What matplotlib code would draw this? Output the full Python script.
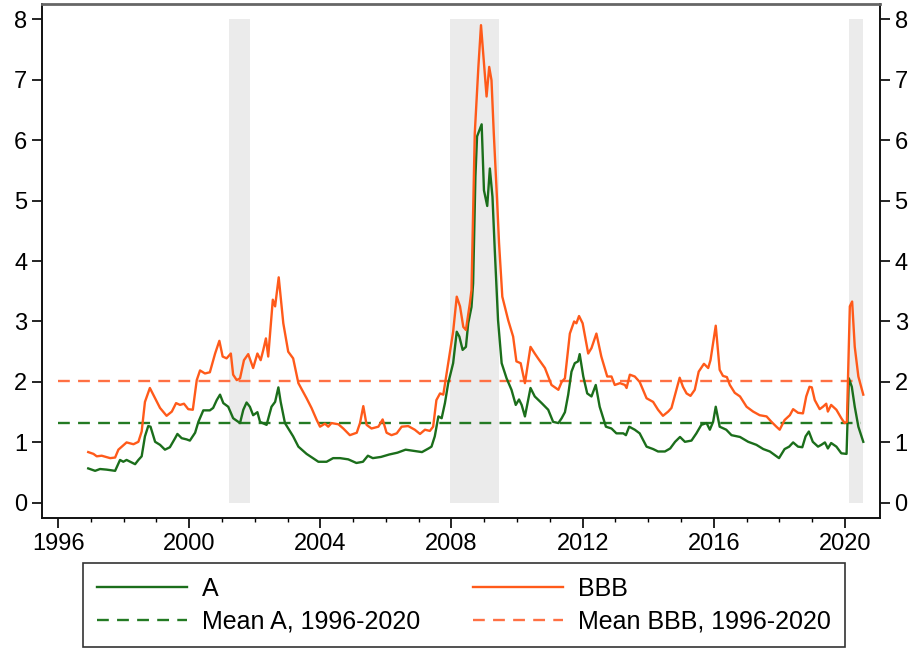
import matplotlib
matplotlib.use("Agg")
import matplotlib.pyplot as plt
import numpy as np

plt.rcParams['font.family'] = ['Liberation Sans', 'DejaVu Sans']

# A-rated spread (decimal year, percent)
a_t = [1996.92, 1997.13, 1997.28, 1997.48, 1997.74, 1997.89, 1997.99, 1998.09, 1998.35, 1998.45,
       1998.55, 1998.65, 1998.75, 1998.82, 1998.96, 1999.11, 1999.26, 1999.41, 1999.57, 1999.64,
       1999.77, 1999.92, 2000.02, 2000.18, 2000.28, 2000.43, 2000.63, 2000.73, 2000.84, 2000.94,
       2001.04, 2001.19, 2001.34, 2001.55, 2001.65, 2001.75, 2001.85, 2001.95, 2002.08, 2002.16,
       2002.36, 2002.51, 2002.62, 2002.72, 2002.79, 2002.92, 2003.17, 2003.33, 2003.58, 2003.94,
       2004.19, 2004.39, 2004.60, 2004.85, 2005.10, 2005.30, 2005.45, 2005.60, 2005.85, 2006.10,
       2006.35, 2006.60, 2006.85, 2007.10, 2007.30, 2007.39, 2007.49, 2007.60, 2007.70, 2007.80,
       2007.90, 2008.05, 2008.16, 2008.24, 2008.34, 2008.44, 2008.51, 2008.61, 2008.66, 2008.73,
       2008.78, 2008.92, 2008.99, 2009.09, 2009.17, 2009.25, 2009.32, 2009.42, 2009.53, 2009.68,
       2009.83, 2009.96, 2010.06, 2010.14, 2010.24, 2010.41, 2010.54, 2010.75, 2010.95, 2011.10,
       2011.26, 2011.36, 2011.46, 2011.56, 2011.66, 2011.76, 2011.86, 2011.91, 2012.02, 2012.14,
       2012.27, 2012.40, 2012.52, 2012.71, 2012.88, 2013.03, 2013.24, 2013.32, 2013.42, 2013.59,
       2013.74, 2013.95, 2014.15, 2014.30, 2014.51, 2014.67, 2014.82, 2014.97, 2015.12, 2015.32,
       2015.47, 2015.62, 2015.78, 2015.88, 2015.98, 2016.06, 2016.18, 2016.38, 2016.54, 2016.80,
       2017.05, 2017.30, 2017.51, 2017.71, 2017.86, 2017.99, 2018.16, 2018.30, 2018.42, 2018.57,
       2018.70, 2018.80, 2018.90, 2019.02, 2019.18, 2019.28, 2019.39, 2019.48, 2019.58, 2019.74,
       2019.89, 2020.05, 2020.12, 2020.21, 2020.30, 2020.41, 2020.56]
a_v = [0.57, 0.53, 0.56, 0.55, 0.53, 0.71, 0.68, 0.71, 0.64, 0.71,
       0.77, 1.10, 1.27, 1.26, 1.01, 0.96, 0.88, 0.92, 1.07, 1.14,
       1.07, 1.05, 1.03, 1.16, 1.34, 1.53, 1.53, 1.57, 1.70, 1.79,
       1.65, 1.59, 1.40, 1.32, 1.54, 1.66, 1.59, 1.45, 1.50, 1.34,
       1.29, 1.59, 1.67, 1.91, 1.67, 1.32, 1.10, 0.93, 0.81, 0.68,
       0.68, 0.74, 0.74, 0.72, 0.66, 0.68, 0.78, 0.74, 0.76, 0.80,
       0.83, 0.88, 0.86, 0.84, 0.90, 0.93, 1.10, 1.43, 1.40, 1.65,
       1.98, 2.31, 2.83, 2.75, 2.53, 2.58, 2.97, 3.24, 3.63, 5.40,
       6.06, 6.26, 5.17, 4.91, 5.53, 5.06, 4.18, 3.02, 2.31, 2.06,
       1.87, 1.62, 1.71, 1.62, 1.43, 1.90, 1.76, 1.65, 1.54, 1.34,
       1.32, 1.40, 1.50, 1.79, 2.17, 2.31, 2.34, 2.46, 2.09, 1.81,
       1.76, 1.95, 1.59, 1.26, 1.23, 1.15, 1.15, 1.12, 1.26, 1.21,
       1.15, 0.93, 0.89, 0.85, 0.85, 0.90, 1.01, 1.09, 1.01, 1.03,
       1.15, 1.29, 1.32, 1.21, 1.34, 1.59, 1.26, 1.21, 1.12, 1.09,
       1.01, 0.96, 0.89, 0.85, 0.79, 0.74, 0.89, 0.93, 1.00, 0.93,
       0.92, 1.10, 1.18, 1.01, 0.93, 0.96, 1.00, 0.90, 0.99, 0.93,
       0.82, 0.81, 2.06, 1.92, 1.59, 1.26, 1.01]

# BBB-rated spread
bbb_t = [1996.92, 1997.08, 1997.18, 1997.33, 1997.59, 1997.74, 1997.84, 1998.09, 1998.30, 1998.45,
         1998.55, 1998.65, 1998.80, 1998.96, 1999.11, 1999.31, 1999.47, 1999.60, 1999.72, 1999.84,
         1999.97, 2000.11, 2000.23, 2000.33, 2000.48, 2000.63, 2000.79, 2000.92, 2001.02, 2001.14,
         2001.27, 2001.34, 2001.45, 2001.55, 2001.67, 2001.80, 2001.95, 2002.08, 2002.18, 2002.26,
         2002.34, 2002.41, 2002.55, 2002.62, 2002.73, 2002.87, 2003.02, 2003.17, 2003.33, 2003.58,
         2003.73, 2003.89, 2003.99, 2004.14, 2004.24, 2004.34, 2004.55, 2004.70, 2004.90, 2005.11,
         2005.21, 2005.31, 2005.41, 2005.56, 2005.77, 2005.90, 2006.02, 2006.17, 2006.33, 2006.48,
         2006.68, 2006.88, 2007.04, 2007.19, 2007.34, 2007.44, 2007.54, 2007.65, 2007.75, 2007.85,
         2008.05, 2008.16, 2008.26, 2008.36, 2008.44, 2008.56, 2008.61, 2008.71, 2008.82, 2008.90,
         2009.00, 2009.07, 2009.15, 2009.22, 2009.29, 2009.39, 2009.45, 2009.55, 2009.73, 2009.88,
         2009.98, 2010.11, 2010.24, 2010.41, 2010.54, 2010.64, 2010.85, 2011.05, 2011.26, 2011.36,
         2011.46, 2011.61, 2011.74, 2011.81, 2011.89, 2012.00, 2012.17, 2012.27, 2012.42, 2012.57,
         2012.75, 2012.88, 2012.98, 2013.14, 2013.29, 2013.34, 2013.44, 2013.59, 2013.74, 2013.95,
         2014.15, 2014.30, 2014.45, 2014.61, 2014.71, 2014.86, 2014.96, 2015.06, 2015.17, 2015.29,
         2015.42, 2015.54, 2015.70, 2015.83, 2015.90, 2016.06, 2016.18, 2016.28, 2016.40, 2016.49,
         2016.64, 2016.80, 2017.00, 2017.20, 2017.40, 2017.61, 2017.76, 2017.91, 2018.01, 2018.16,
         2018.32, 2018.42, 2018.57, 2018.72, 2018.82, 2018.92, 2018.99, 2019.08, 2019.23, 2019.33,
         2019.43, 2019.48, 2019.58, 2019.74, 2019.89, 2019.99, 2020.06, 2020.15, 2020.22, 2020.30,
         2020.41, 2020.56]
bbb_v = [0.84, 0.81, 0.77, 0.78, 0.74, 0.75, 0.88, 1.00, 0.97, 1.01,
         1.18, 1.67, 1.90, 1.73, 1.57, 1.44, 1.51, 1.65, 1.62, 1.64,
         1.55, 1.54, 2.03, 2.19, 2.14, 2.16, 2.47, 2.68, 2.42, 2.39,
         2.47, 2.12, 2.03, 2.06, 2.36, 2.46, 2.23, 2.47, 2.36, 2.53,
         2.72, 2.42, 3.36, 3.25, 3.73, 2.97, 2.50, 2.39, 1.98, 1.73,
         1.57, 1.37, 1.26, 1.31, 1.26, 1.32, 1.30, 1.23, 1.12, 1.16,
         1.32, 1.60, 1.29, 1.23, 1.26, 1.38, 1.16, 1.12, 1.15, 1.26,
         1.27, 1.21, 1.14, 1.21, 1.19, 1.26, 1.70, 1.81, 1.79, 2.14,
         2.83, 3.41, 3.25, 2.91, 2.86, 3.30, 3.52, 6.11, 7.21, 7.90,
         7.21, 6.72, 7.21, 6.99, 6.11, 5.01, 4.30, 3.41, 3.02, 2.75,
         2.34, 2.31, 1.98, 2.58, 2.47, 2.39, 2.23, 1.95, 1.87, 2.00,
         2.06, 2.80, 3.00, 2.97, 3.09, 2.97, 2.47, 2.56, 2.80, 2.42,
         2.09, 2.09, 1.95, 1.98, 1.95, 1.90, 2.12, 2.09, 2.00, 1.73,
         1.67, 1.54, 1.44, 1.51, 1.57, 1.87, 2.07, 1.92, 1.81, 1.77,
         1.87, 2.17, 2.30, 2.23, 2.36, 2.93, 2.20, 2.10, 2.08, 1.95,
         1.82, 1.76, 1.59, 1.51, 1.45, 1.43, 1.34, 1.26, 1.21, 1.37,
         1.45, 1.55, 1.49, 1.48, 1.76, 1.92, 1.91, 1.70, 1.55, 1.59,
         1.64, 1.51, 1.62, 1.54, 1.40, 1.32, 1.34, 3.25, 3.33, 2.58,
         2.09, 1.79]

mean_a = 1.32
mean_bbb = 2.02
mean_span = [1996.0, 2020.5]

# recession periods
rec_start = [2001.21, 2007.95, 2020.12]
rec_end = [2001.85, 2009.45, 2020.54]

green = '#1b6e1b'
orange = '#ff5a1a'

fig = plt.figure(figsize=(9.13, 6.54), dpi=100)
ax = fig.add_axes([42/913, 1-518/654, (880-42)/913, (518-4)/654])

for s, e in zip(rec_start, rec_end):
    ax.fill_between([s, e], 0, 8, color='#ebebeb', lw=0, zorder=0)

la, = ax.plot(a_t, a_v, color=green, lw=1.7, zorder=3)
lb, = ax.plot(bbb_t, bbb_v, color=orange, lw=1.7, zorder=3)
ma, = ax.plot(mean_span, [mean_a, mean_a], color='#237a23', lw=1.7, ls=(0, (5, 3.5)), zorder=2)
mb, = ax.plot(mean_span, [mean_bbb, mean_bbb], color='#ff7043', lw=1.7, ls=(0, (5, 3.5)), zorder=2)

ax.set_xlim(1995.51, 2021.07)
ax.set_ylim(-0.25, 8.25)
ax.set_xticks(np.arange(1996, 2021, 4))
ax.set_xticks(np.arange(1996, 2021, 1), minor=True)
ax.set_yticks(np.arange(0, 9, 1))
ax.tick_params(axis='both', which='major', direction='out', length=7, width=1.2, labelsize=17)
ax.tick_params(axis='x', which='minor', direction='out', length=3, width=1.0)
ax.tick_params(axis='y', right=True, labelright=True)
for side in ['left', 'bottom', 'right']:
    ax.spines[side].set_linewidth(1.4)
    ax.spines[side].set_color('#111111')
ax.spines['top'].set_linewidth(2)
ax.spines['top'].set_color('#666666')

leg = fig.legend([la, ma, lb, mb],
                 ['A', 'Mean A, 1996-2020', 'BBB', 'Mean BBB, 1996-2020'],
                 ncol=2, loc='upper left', mode='expand',
                 bbox_to_anchor=(83/913, 1-652/654, (845-83)/913, 89/654),
                 fontsize=18, handlelength=3.6, handletextpad=0.6,
                 fancybox=False, edgecolor='#333333', framealpha=1,
                 borderaxespad=0, borderpad=0.55, labelspacing=0.35)
leg.get_frame().set_linewidth(1.2)

fig.savefig('out.png', dpi=100)
